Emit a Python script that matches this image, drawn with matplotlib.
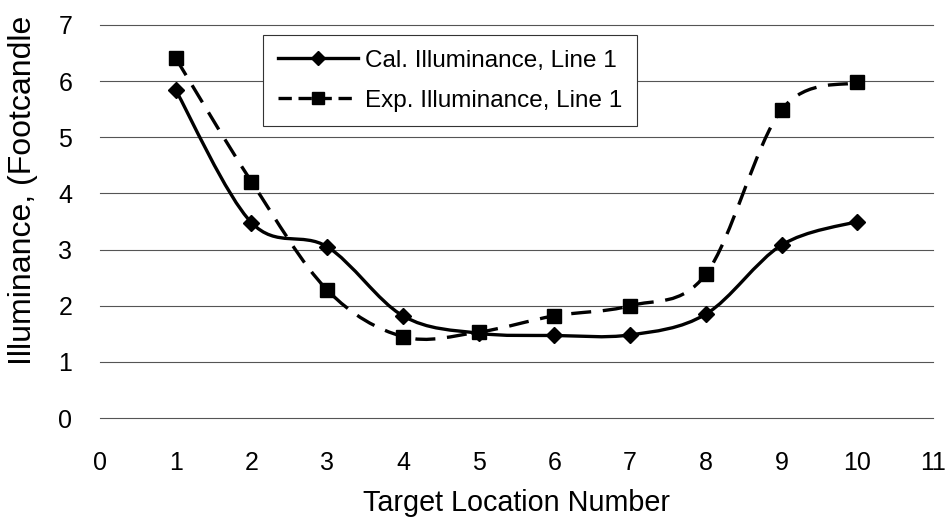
import numpy as np
import matplotlib
matplotlib.use("Agg")
import matplotlib.pyplot as plt
from matplotlib.path import Path
from matplotlib.patches import PathPatch
from matplotlib.lines import Line2D

plt.rcParams['font.family'] = ['Liberation Sans', 'DejaVu Sans']

locations = [1, 2, 3, 4, 5, 6, 7, 8, 9, 10]
cal_illum = [5.84, 3.48, 3.05, 1.82, 1.51, 1.47, 1.48, 1.85, 3.08, 3.50]
exp_illum = [6.41, 4.21, 2.28, 1.45, 1.53, 1.82, 2.00, 2.56, 5.49, 5.98]
x_ticks = list(range(0, 12))
y_ticks = list(range(0, 8))
cal_label = "Cal. Illuminance, Line 1"
exp_label = "Exp. Illuminance, Line 1"


def smooth_path(x, y):
    """Bezier path through the data points (Excel-style smoothed line)."""
    pts = np.column_stack([x, y]).astype(float)
    n = len(pts)
    verts = [pts[0]]
    codes = [Path.MOVETO]
    for i in range(n - 1):
        p0 = pts[i - 1] if i > 0 else pts[i]
        p1 = pts[i]
        p2 = pts[i + 1]
        p3 = pts[i + 2] if i + 2 < n else pts[i + 1]
        c1 = p1 + (p2 - p0) / 6.0
        c2 = p2 - (p3 - p1) / 6.0
        verts += [c1, c2, p2]
        codes += [Path.CURVE4] * 3
    return Path(verts, codes)


fig = plt.figure(figsize=(9.5, 5.21), dpi=100)
ax = fig.add_axes([100 / 950, 1 - 418 / 521, 833 / 950, 393 / 521])

ax.set_xlim(0, 11)
ax.set_ylim(0, 7)
ax.set_xticks(x_ticks)
ax.set_yticks(y_ticks)
ax.tick_params(length=0, labelsize=18)
ax.tick_params(axis='y', pad=20)
ax.tick_params(axis='x', pad=23.5)
for s in ax.spines.values():
    s.set_visible(False)
ax.yaxis.grid(True, color='#555555', linewidth=0.8)
for gl in ax.get_ygridlines():
    gl.set_clip_on(False)
ax.set_axisbelow(True)

lw = 2.4
ax.add_patch(PathPatch(smooth_path(locations, cal_illum), fill=False,
                       edgecolor='black', linewidth=lw, zorder=3))
ax.add_patch(PathPatch(smooth_path(locations, exp_illum), fill=False,
                       edgecolor='black', linewidth=lw, linestyle=(0, (6, 3.5)),
                       zorder=3))
ax.plot(locations, cal_illum, linestyle='none', marker='D', markersize=8,
        color='black', zorder=4)
ax.plot(locations, exp_illum, linestyle='none', marker='s', markersize=10,
        color='black', zorder=4)

ax.set_xlabel("Target Location Number", fontsize=20.7, labelpad=10)
fig.text(23 / 950, 1 - 190 / 521, "Illuminance, (Footcandle", rotation=90,
         fontsize=23, ha='center', va='center')

handles = [
    Line2D([], [], color='black', linewidth=lw, marker='D', markersize=7),
    Line2D([], [], color='black', linewidth=lw, linestyle=(0, (4, 2)),
           marker='s', markersize=9),
]
leg = fig.legend(handles, [cal_label, exp_label], loc='upper left',
                 bbox_to_anchor=(263 / 950, 1 - 35 / 521), borderaxespad=0,
                 fontsize=17.5, frameon=True, fancybox=False, handlelength=3.3,
                 borderpad=0.6, labelspacing=0.75, handletextpad=0.3)
leg.get_frame().set_edgecolor('#333333')
leg.get_frame().set_linewidth(0.8)
leg.get_frame().set_alpha(1)

fig.savefig("out.png", dpi=100)
